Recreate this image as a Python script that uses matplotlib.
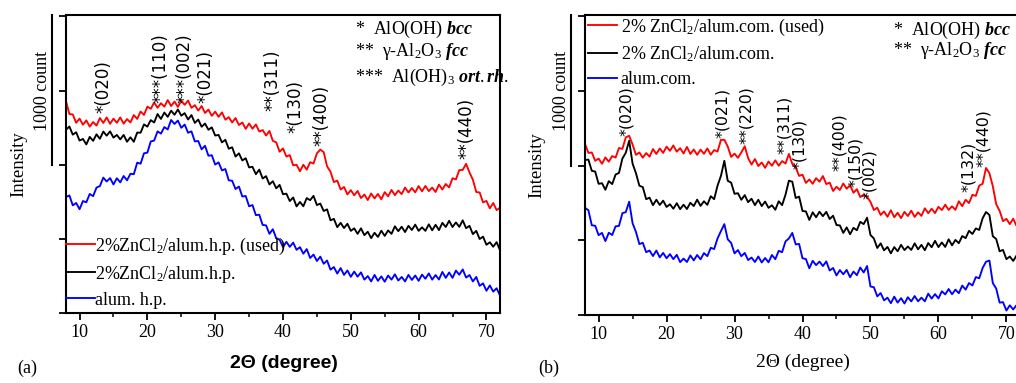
import numpy as np
import matplotlib
matplotlib.use("Agg")
import matplotlib.pyplot as plt
from matplotlib.ticker import MultipleLocator
import matplotlib.transforms as mtrans

plt.rcParams['font.family'] = ['Liberation Serif', 'DejaVu Serif']
plt.rcParams['mathtext.fontset'] = 'custom'
plt.rcParams['mathtext.rm'] = 'Liberation Serif'
plt.rcParams['mathtext.it'] = 'Liberation Serif:italic:bold'
plt.rcParams['mathtext.bf'] = 'Liberation Serif:bold'

# ---------------- data ----------------
two_theta = np.arange(8.0, 72.01, 0.5)

a_used = [1429, 1342, 1339, 1283, 1311, 1270, 1299, 1257, 1288, 1264,
          1315, 1282, 1319, 1276, 1311, 1283, 1319, 1277, 1308, 1285,
          1335, 1309, 1359, 1336, 1392, 1377, 1420, 1384, 1415, 1392,
          1436, 1396, 1426, 1390, 1432, 1404, 1433, 1384, 1402, 1365,
          1396, 1349, 1372, 1330, 1358, 1323, 1353, 1304, 1321, 1285,
          1315, 1268, 1285, 1242, 1278, 1243, 1272, 1224, 1234, 1197,
          1228, 1161, 1151, 1088, 1110, 1055, 1065, 996, 1000, 956,
          1000, 967, 1017, 1008, 1077, 1102, 1085, 989, 953, 883,
          893, 833, 850, 800, 829, 794, 823, 775, 799, 762,
          806, 773, 803, 767, 815, 787, 830, 795, 826, 802,
          846, 813, 843, 814, 856, 821, 857, 822, 846, 816,
          866, 833, 870, 847, 909, 901, 964, 965, 1006, 948,
          899, 816, 813, 746, 756, 706, 742, 694, 710]

a_fresh = [1236, 1258, 1203, 1219, 1163, 1174, 1137, 1188, 1161, 1205,
           1175, 1224, 1196, 1225, 1183, 1201, 1171, 1201, 1155, 1185,
           1155, 1217, 1216, 1272, 1257, 1301, 1285, 1342, 1309, 1352,
           1323, 1365, 1337, 1373, 1331, 1348, 1305, 1335, 1282, 1305,
           1256, 1278, 1236, 1252, 1197, 1201, 1151, 1168, 1108, 1118,
           1055, 1077, 1029, 1044, 982, 986, 936, 967, 907, 923,
           867, 889, 841, 864, 801, 805, 755, 779, 719, 749,
           720, 775, 761, 790, 728, 738, 688, 699, 625, 635,
           579, 608, 573, 602, 554, 571, 534, 571, 525, 548,
           505, 541, 513, 555, 520, 557, 534, 585, 552, 582,
           546, 588, 560, 596, 554, 578, 554, 598, 558, 595,
           559, 608, 580, 622, 580, 611, 581, 625, 572, 588,
           532, 554, 499, 515, 460, 477, 447, 478, 424]

a_base = [782, 793, 726, 742, 700, 755, 747, 803, 788, 846,
          856, 913, 887, 910, 867, 909, 881, 924, 895, 939,
          936, 1014, 1007, 1077, 1082, 1157, 1163, 1225, 1210, 1254,
          1238, 1302, 1275, 1298, 1249, 1271, 1216, 1225, 1157, 1160,
          1104, 1128, 1061, 1064, 1001, 1016, 962, 971, 895, 892,
          836, 853, 786, 789, 720, 728, 660, 663, 594, 591,
          534, 565, 505, 494, 445, 480, 446, 475, 426, 444,
          400, 431, 371, 394, 351, 380, 332, 354, 292, 310,
          266, 303, 257, 287, 244, 279, 245, 274, 225, 249,
          213, 257, 217, 247, 211, 253, 225, 261, 219, 243,
          213, 257, 223, 253, 217, 259, 231, 267, 225, 256,
          226, 277, 237, 273, 237, 286, 258, 294, 239, 256,
          213, 243, 183, 200, 150, 186, 144, 167, 118]

b_used = [1146, 1086, 1089, 1033, 1048, 1013, 1056, 1027, 1065, 1055,
          1119, 1113, 1190, 1201, 1142, 1073, 1089, 1054, 1085, 1061,
          1112, 1079, 1116, 1086, 1128, 1100, 1136, 1094, 1118, 1082,
          1126, 1079, 1109, 1073, 1108, 1080, 1116, 1074, 1105, 1095,
          1173, 1174, 1129, 1059, 1081, 1053, 1089, 1131, 1051, 1008,
          1045, 998, 1022, 986, 1028, 1000, 1036, 1000, 1031, 1015,
          1079, 1012, 988, 932, 940, 885, 908, 879, 917, 893,
          931, 877, 887, 831, 859, 838, 881, 846, 870, 819,
          843, 790, 806, 792, 758, 703, 719, 670, 694, 658,
          702, 655, 685, 649, 691, 663, 699, 657, 688, 664,
          715, 682, 712, 683, 725, 703, 739, 704, 728, 705,
          762, 729, 772, 750, 805, 798, 867, 879, 985, 950,
          863, 742, 698, 629, 644, 609, 645, 596, 614]

b_fresh = [1039, 1041, 966, 961, 879, 883, 839, 897, 877, 941,
           952, 1048, 1087, 1168, 1014, 950, 866, 857, 776, 786,
           736, 772, 737, 766, 724, 742, 712, 749, 709, 739,
           710, 752, 730, 773, 731, 762, 738, 796, 776, 867,
           932, 1033, 899, 887, 812, 816, 772, 803, 756, 779,
           736, 772, 730, 760, 718, 735, 705, 762, 736, 806,
           900, 893, 784, 793, 697, 694, 637, 688, 655, 692,
           662, 691, 643, 665, 603, 600, 550, 587, 541, 584,
           568, 624, 609, 652, 536, 513, 449, 480, 433, 456,
           413, 455, 427, 470, 435, 459, 436, 480, 440, 470,
           434, 482, 454, 497, 455, 486, 456, 507, 467, 503,
           481, 529, 515, 564, 543, 580, 570, 648, 690, 670,
           528, 509, 427, 436, 374, 392, 362, 399, 352]

b_base = [718, 702, 601, 598, 535, 550, 495, 551, 536, 594,
          597, 682, 689, 759, 615, 556, 475, 484, 421, 432,
          395, 432, 386, 416, 380, 408, 374, 403, 354, 378,
          355, 399, 366, 402, 373, 415, 394, 450, 442, 513,
          562, 609, 507, 483, 413, 435, 394, 416, 368, 385,
          355, 392, 352, 382, 353, 402, 374, 430, 421, 493,
          513, 550, 473, 476, 380, 375, 313, 363, 334, 358,
          328, 359, 298, 315, 265, 301, 273, 302, 253, 291,
          267, 318, 285, 328, 191, 186, 125, 147, 98, 116,
          79, 123, 83, 113, 77, 119, 91, 127, 92, 116,
          92, 143, 110, 140, 111, 159, 138, 174, 139, 170,
          146, 197, 170, 214, 198, 254, 246, 315, 357, 365,
          214, 177, 83, 86, 30, 65, 37, 66, 18]

labels_a = ["2%ZnCl$_2$/alum.h.p. (used)", "2%ZnCl$_2$/alum.h.p.", "alum. h.p."]
labels_b = ["2% ZnCl$_2$/alum.com. (used)", "2% ZnCl$_2$/alum.com.", "alum.com."]
colors = ["#ff0000", "#000000", "#0000ff"]

peaks_a = [("*(020)", 13.5, 1347), ("***(110)", 21.9, 1414), ("***(002)", 25.4, 1414),
           ("*(021)", 28.5, 1414), ("**(311)", 38.5, 1360), ("*(130)", 41.8, 1213),
           ("**(400)", 45.7, 1126), ("**(440)", 67.1, 1039)]
peaks_b = [("*(020)", 14.1, 1198), ("*(021)", 28.2, 1185), ("**(220)", 31.7, 1144),
           ("**(311)", 37.3, 1077), ("*(130)", 39.6, 976), ("**(400)", 45.5, 962),
           ("*(150)", 47.8, 855), ("*(002)", 49.9, 774), ("*(132)", 64.4, 821),
           ("**(440)", 66.6, 989)]

phases_a = ["*  AlO(OH) $bcc$", "**  $\\mathrm{\\gamma}$-Al$_2$O$_3$ $fcc$",
            "***  Al(OH)$_3$ $ort.rh.$"]
phases_b = ["*  AlO(OH) $bcc$", "**  $\\mathrm{\\gamma}$-Al$_2$O$_3$ $fcc$"]

# ---------------- figure ----------------
W, H = 1016, 383
fig = plt.figure(figsize=(W / 100, H / 100), dpi=100)


def px_axes(l, t, r, b):
    return fig.add_axes([l / W, 1 - b / H, (r - l) / W, (b - t) / H])


ax_a = px_axes(66, 15, 500, 313)
ax_b = px_axes(585, 15, 1020, 315)

FS = 13


def style(ax, ylab_x):
    ax.set_xlim(8, 72)
    ax.set_ylim(0, 2010)
    ax.xaxis.set_major_locator(MultipleLocator(10))
    ax.xaxis.set_minor_locator(MultipleLocator(5))
    ax.yaxis.set_major_locator(MultipleLocator(500))
    ax.set_yticklabels([])
    ax.tick_params(axis='x', which='major', direction='out', length=5, width=1.3,
                   labelsize=FS, pad=3)
    ax.tick_params(axis='x', which='minor', direction='out', length=3, width=1.1)
    ax.tick_params(axis='y', which='major', direction='out', length=5, width=1.3)
    ax.tick_params(top=False, right=False)
    for s in ax.spines.values():
        s.set_linewidth(1.5)
    ax.set_ylabel("Intensity", fontsize=13.5)
    ax.yaxis.set_label_coords(ylab_x, 0.5)


for ax, series, labels, ylx in [(ax_a, [a_used, a_fresh, a_base], labels_a, -0.09),
                                (ax_b, [b_used, b_fresh, b_base], labels_b, -0.092)]:
    style(ax, ylx)
    for y, c, lab in zip(series, colors, labels):
        ax.plot(two_theta, y, color=c, lw=1.35, label=lab)
    # scale bar "1000 count"
    tr = mtrans.blended_transform_factory(ax.transAxes, ax.transData)
    ax.plot([-0.032, -0.032], [1000, 2010], transform=tr, color='black', lw=1.5,
            clip_on=False)
    ax.text(-0.053, 1500, "1000 count", transform=tr, rotation=90, ha='center',
            va='center', fontsize=13)

# legends
ax_a.legend(loc='lower left', bbox_to_anchor=(0.0, 0.015), frameon=False, fontsize=13,
            handlelength=1.6, handletextpad=0.0, labelspacing=0.38, borderaxespad=0,
            borderpad=0)
ax_b.legend(loc='upper left', bbox_to_anchor=(0.007, 0.995), frameon=False, fontsize=13,
            handlelength=1.6, handletextpad=0.2, labelspacing=0.38, borderaxespad=0,
            borderpad=0)

# peak labels
for ax, peaks, fs in [(ax_a, peaks_a, 12), (ax_b, peaks_b, 11.3)]:
    for txt, xp, yp in peaks:
        ax.text(xp, yp, txt, rotation=90, ha='center', va='bottom', fontsize=fs,
                family='DejaVu Sans')

# phase keys
for i, t in enumerate(phases_a):
    ax_a.text(0.666, [0.95, 0.876, 0.789][i], t, transform=ax_a.transAxes,
              ha='left', va='center', fontsize=13)
for i, t in enumerate(phases_b):
    ax_b.text(0.708, [0.95, 0.883][i], t, transform=ax_b.transAxes,
              ha='left', va='center', fontsize=13)

# x labels
ax_a.set_xlabel("2Θ (degree)", fontsize=14, family='Liberation Sans', weight='bold')
ax_a.xaxis.label.set_va('center')
ax_a.xaxis.set_label_coords(0.502, -0.168)
ax_b.set_xlabel("2Θ (degree)", fontsize=14)
ax_b.xaxis.label.set_va('center')
ax_b.xaxis.set_label_coords(0.5, -0.157)

fig.text(27 / W, 1 - 368 / H, "(a)", ha='center', va='center', fontsize=13)
fig.text(549 / W, 1 - 368 / H, "(b)", ha='center', va='center', fontsize=13)

fig.savefig("out.png", dpi=100)
